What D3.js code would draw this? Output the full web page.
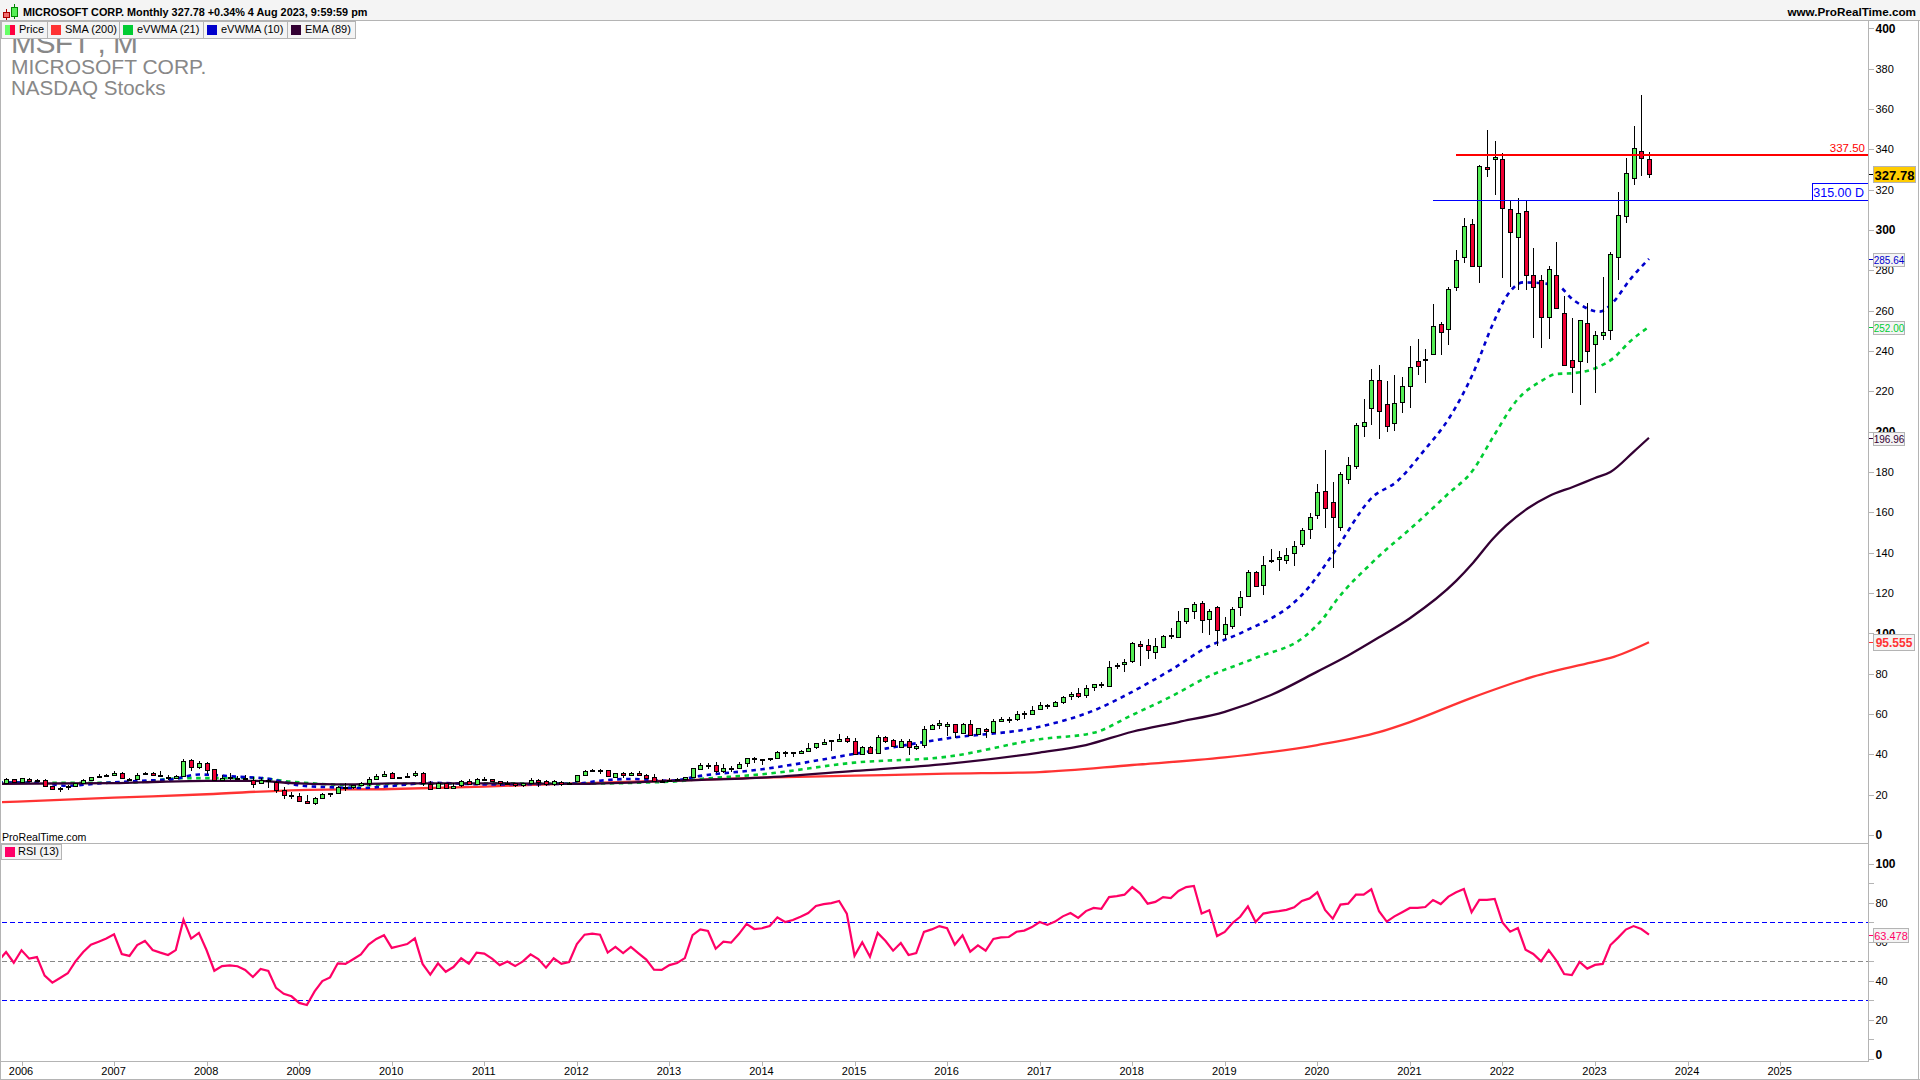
<!DOCTYPE html>
<html>
<head>
<meta charset="utf-8">
<title>MSFT monthly</title>
<script src="https://cdn.jsdelivr.net/npm/d3@7"></script>
<style>
  html, body { margin: 0; padding: 0; background: #fff; }
  svg { display: block; }
  text { font-family: "Liberation Sans", Arial, sans-serif; }
</style>
</head>
<body>
<script>
var width = 1920,
    height = 1080;

// monthly candles, first bar is Nov 2005 (month index -2, Jan 2006 = 0)
var firstMonth = -2;

var opens = [
  25.73, 27.73,
  26.25, 27.9, 26.9, 27.1, 24.2, 22.6, 23.4, 24.1, 25.8, 27.4, 28.9, 29.2,
  29.9, 30.7, 28.0, 27.9, 30.0, 30.7, 29.6, 29.0, 28.6, 29.5, 37.0, 33.6,
  35.9, 32.5, 27.2, 28.4, 28.5, 28.2, 27.5, 25.7, 27.3, 26.4, 22.5, 20.0,
  19.5, 17.0, 16.1, 18.2, 20.4, 21.0, 23.8, 23.8, 24.6, 25.9, 27.9, 29.5,
  30.6, 28.4, 28.8, 29.4, 30.7, 25.5, 23.1, 25.9, 23.7, 24.6, 26.9, 25.6,
  28.0, 27.8, 26.6, 25.5, 25.9, 25.0, 26.1, 27.5, 26.6, 25.0, 26.4, 25.6,
  26.6, 29.8, 31.9, 32.0, 32.0, 28.8, 30.6, 29.6, 30.8, 29.8, 28.8, 27.0,
  27.2, 27.5, 27.7, 28.6, 32.9, 34.6, 34.8, 31.8, 33.3, 33.4, 35.7, 38.1,
  37.3, 37.7, 38.2, 41.1, 40.3, 40.95, 41.9, 43.2, 45.4, 46.3, 46.9, 47.9,
  46.7, 40.6, 43.7, 40.6, 48.6, 47.0, 43.9, 46.7, 43.4, 44.8, 52.6, 54.4,
  54.3, 54.9, 50.97, 55.1, 50.0, 52.4, 51.1, 56.6, 57.0, 57.4, 60.1, 60.2,
  62.8, 64.4, 64.1, 65.8, 68.7, 70.2, 69.3, 73.1, 74.7, 73.8, 83.7, 84.6,
  86.1, 94.8, 93.99, 90.5, 93.2, 99.3, 98.1, 106.0, 111.0, 115.0, 107.0, 113.0,
  99.6, 103.8, 112.9, 118.9, 130.5, 123.9, 136.6, 137.0, 136.6, 139.7, 144.3, 151.8,
  158.8, 170.4, 165.3, 153.0, 176.3, 183.0, 203.1, 211.5, 225.5, 213.5, 204.3, 214.5,
  222.5, 235.1, 235.9, 238.5, 253.4, 251.2, 271.6, 286.4, 302.9, 282.1, 331.4, 335.1,
  335.4, 310.4, 296.4, 309.4, 277.7, 275.2, 257.0, 277.8, 258.9, 235.4, 234.6, 253.9,
  243.1, 248.0, 250.8, 286.5, 306.97, 325.9, 339.2, 335.2
];

var highs = [
  28.25, 27.9,
  28.38, 28.2, 27.9, 27.7, 24.3, 23.9, 24.6, 26.0, 27.9, 29.0, 30.0, 30.3,
  31.5, 31.2, 28.5, 30.7, 31.2, 31.1, 31.8, 29.6, 29.9, 37.5, 37.5, 36.7,
  35.96, 32.7, 29.8, 30.8, 29.5, 29.6, 28.7, 28.5, 28.0, 26.6, 23.9, 21.3,
  21.0, 19.9, 18.7, 20.9, 21.0, 24.3, 25.7, 25.0, 26.1, 28.9, 30.0, 31.5,
  31.2, 29.0, 30.6, 31.6, 31.0, 26.9, 26.1, 26.0, 25.8, 27.2, 28.0, 28.4,
  28.9, 27.9, 26.7, 26.9, 25.9, 26.0, 28.1, 27.6, 27.5, 27.5, 26.7, 26.1,
  29.9, 32.0, 32.9, 32.9, 32.3, 30.9, 31.0, 31.3, 31.6, 30.1, 30.2, 27.7,
  28.2, 28.2, 29.0, 33.3, 35.8, 35.8, 36.4, 35.2, 34.0, 36.3, 38.3, 38.9,
  37.9, 38.4, 41.5, 41.7, 41.4, 42.3, 45.7, 45.5, 47.6, 47.0, 50.0, 49.0,
  47.9, 44.3, 44.2, 49.5, 49.0, 47.8, 47.4, 47.4, 45.0, 54.0, 55.0, 56.8,
  56.0, 55.1, 55.6, 56.8, 53.0, 52.9, 57.3, 58.5, 58.7, 61.4, 61.4, 64.1,
  65.9, 65.2, 66.2, 69.1, 70.7, 72.9, 74.4, 74.96, 75.97, 86.2, 85.1, 87.5,
  95.5, 96.1, 97.2, 97.9, 99.0, 102.7, 111.2, 112.8, 115.3, 116.2, 112.2, 113.4,
  107.9, 113.2, 120.8, 131.4, 130.7, 138.4, 141.7, 140.9, 142.4, 145.7, 152.0, 159.6,
  174.1, 190.7, 175.0, 180.0, 187.5, 204.4, 216.4, 231.2, 232.9, 225.2, 228.1, 227.2,
  242.6, 246.1, 241.1, 263.2, 254.4, 271.6, 290.2, 305.8, 305.3, 332.0, 349.7, 344.3,
  338.0, 315.1, 315.9, 315.1, 290.9, 277.7, 282.0, 294.2, 267.5, 256.2, 255.3, 263.9,
  249.8, 276.8, 289.3, 318.8, 335.9, 351.5, 366.8, 338.5
];

var lows = [
  25.5, 26.1,
  26.1, 26.3, 26.5, 23.9, 22.5, 21.5, 22.2, 23.9, 25.2, 27.3, 28.7, 29.0,
  29.4, 28.0, 26.6, 27.5, 29.9, 29.5, 28.9, 27.3, 28.1, 29.3, 31.6, 32.5,
  30.2, 26.9, 26.9, 27.1, 27.6, 27.1, 23.5, 25.2, 23.5, 20.8, 18.0, 18.0,
  16.75, 15.2, 14.87, 17.9, 19.0, 20.7, 22.0, 23.0, 24.2, 24.4, 27.6, 29.2,
  27.7, 27.6, 28.4, 28.6, 24.5, 22.9, 22.7, 23.3, 23.3, 24.0, 25.2, 25.2,
  27.4, 26.4, 24.2, 24.8, 24.0, 23.6, 26.0, 23.8, 24.3, 24.3, 24.3, 25.0,
  26.4, 29.7, 31.0, 30.3, 28.9, 28.3, 28.5, 29.2, 29.7, 27.9, 26.3, 26.1,
  26.3, 27.1, 27.5, 28.1, 32.6, 32.6, 30.8, 30.8, 31.0, 32.7, 33.9, 35.9,
  34.6, 36.9, 37.7, 38.5, 38.5, 40.2, 41.1, 42.7, 44.6, 41.6, 46.7, 45.5,
  40.2, 40.2, 40.2, 40.1, 45.8, 43.9, 43.3, 39.7, 42.2, 43.1, 52.0, 52.5,
  49.1, 48.2, 50.6, 49.4, 49.5, 48.0, 50.4, 56.2, 55.6, 56.3, 57.3, 59.9,
  61.9, 62.7, 63.6, 64.8, 67.1, 67.9, 68.0, 71.3, 72.9, 73.6, 82.2, 80.7,
  85.5, 83.8, 87.1, 87.5, 92.5, 97.3, 97.7, 104.8, 107.2, 100.1, 99.4, 93.96,
  97.2, 102.3, 108.8, 118.1, 123.0, 119.0, 134.7, 130.8, 134.5, 133.2, 143.0, 146.7,
  156.5, 152.0, 132.5, 150.8, 173.8, 181.4, 197.5, 203.1, 196.3, 199.6, 200.1, 209.1,
  211.9, 227.9, 224.3, 238.0, 238.1, 243.0, 269.6, 283.7, 281.6, 273.9, 326.4, 317.3,
  276.1, 271.5, 270.0, 270.0, 246.4, 241.5, 245.9, 260.7, 232.7, 219.1, 213.4, 233.9,
  219.4, 245.5, 245.6, 275.4, 303.4, 322.5, 327.0, 325.7
];

var closes = [
  27.68, 26.15,
  28.15, 26.87, 27.21, 24.15, 22.65, 23.3, 24.06, 25.7, 27.35, 28.71, 29.36, 29.86,
  30.86, 28.17, 27.87, 29.94, 30.69, 29.47, 28.99, 28.73, 29.46, 36.81, 33.6, 35.6,
  32.6, 27.2, 28.38, 28.52, 28.32, 27.51, 25.72, 27.29, 26.69, 22.33, 20.22, 19.44,
  17.1, 16.15, 18.37, 20.26, 20.89, 23.77, 23.52, 24.65, 25.72, 27.73, 29.41, 30.48,
  28.18, 28.67, 29.29, 30.54, 25.8, 23.01, 25.81, 23.47, 24.49, 26.67, 25.26, 27.91,
  27.73, 26.58, 25.39, 25.92, 25.01, 26.0, 27.4, 26.6, 24.89, 26.63, 25.58, 25.96,
  29.53, 31.74, 32.26, 32.02, 29.19, 30.59, 29.47, 30.82, 29.76, 28.54, 26.62, 26.71,
  27.45, 27.8, 28.6, 33.1, 34.9, 34.55, 31.84, 33.4, 33.28, 35.4, 38.13, 37.41,
  37.84, 38.31, 40.99, 40.4, 40.94, 41.7, 43.16, 45.43, 46.36, 46.95, 47.81, 46.45,
  40.4, 43.85, 40.65, 48.64, 46.86, 44.15, 46.7, 43.52, 44.26, 52.64, 54.35, 55.48,
  55.09, 50.88, 55.23, 49.87, 53.0, 51.17, 56.68, 57.46, 57.6, 59.92, 60.26, 62.14,
  64.65, 63.98, 65.86, 68.46, 69.84, 68.93, 72.7, 74.77, 74.49, 83.18, 84.17, 85.54,
  95.01, 93.77, 91.27, 93.52, 98.84, 98.61, 106.08, 112.33, 114.37, 106.81, 110.89, 101.57,
  104.43, 112.03, 117.94, 130.6, 123.68, 133.96, 136.27, 137.86, 139.03, 143.37, 151.38, 157.7,
  170.23, 162.01, 157.71, 179.21, 183.25, 203.51, 205.01, 225.53, 210.33, 202.47, 214.07, 222.42,
  231.96, 232.38, 235.77, 252.18, 249.68, 270.9, 284.91, 301.88, 281.92, 331.62, 330.59, 336.32,
  310.98, 298.79, 308.31, 277.52, 271.87, 256.83, 280.74, 261.47, 232.9, 232.13, 255.14, 239.82,
  247.81, 249.42, 288.3, 307.26, 328.39, 340.54, 335.92, 327.78
];

// RSI (13), first value is month index -3
var rsiValues = [
  50, 54.6, 49.1,
  55.5, 51.2, 52, 42.5, 38.9, 41.3, 43.7, 49.8, 54.6, 58.4, 59.9, 61.5,
  63.7, 53.6, 52.6, 58.2, 60.3, 55.6, 54.3, 53.1, 55.6, 71.2, 61.5, 64.4,
  55.5, 45, 47.4, 47.8, 47.3, 45.4, 41.8, 45.9, 44.9, 36.2, 33.2, 31.9,
  28.5, 27.4, 34.4, 39.7, 41.6, 48.8, 48.5, 50.9, 53.4, 58.4, 61.3, 63.2,
  56.7, 57.7, 58.7, 61.6, 48.5, 43, 48.8, 44.5, 46.9, 51.4, 48.6, 54.3,
  53.8, 51.2, 47.9, 49.7, 47.4, 49.8, 53.4, 51, 46.6, 51.4, 48.5, 49.5,
  58.7, 63.5, 64, 63.5, 54.3, 57.2, 54.1, 57.2, 53.9, 50.7, 45.6, 45.4,
  47.9, 49, 51.5, 63.3, 66.2, 65.4, 56.3, 59.9, 59.4, 63.8, 69, 66.4,
  66.8, 67.9, 72.4, 70, 71, 72.7, 74.6, 78.2, 79.2, 79.7, 80.8, 74.3,
  52.7, 59.6, 52.2, 64.4, 60.4, 55.3, 59.2, 53.1, 54.1, 64.9, 66.2, 67.9,
  66.8, 58.4, 63.2, 54.8, 58, 55.3, 61.3, 62.1, 62.3, 65, 65.6, 67.4,
  70, 68.5, 70.2, 72.9, 74.6, 72.1, 75.6, 77.2, 76.7, 82.8, 83.3, 84,
  87.9, 84.7, 79.4, 80.3, 82.8, 82.3, 85.9, 87.9, 88.5, 74.3, 76, 62.8,
  64.9, 69.5, 72.7, 78, 70, 74.3, 75.1, 75.6, 76.2, 77.5, 80.8, 82.1,
  85.2, 76.2, 71.7, 78.9, 79.4, 84, 84, 86.8, 75.5, 70.2, 72.9, 75,
  77.2, 77.2, 77.7, 81.3, 79.2, 83, 85.2, 86.9, 75, 81.3, 81.3, 81.8,
  69.8, 65, 66.9, 55.8, 53.6, 49.8, 55.6, 50.2, 43.3, 42.8, 49.5, 46.1,
  48, 48.5, 58.2, 62, 66.1, 67.9, 66.4, 63.478
];

// moving averages at these month indexes
var smaMonths = [-3, 12, 24, 36, 48, 60, 72, 84, 96, 108, 120, 132, 144, 156, 168, 176, 180, 188, 196, 204, 206, 211];
var smaValues = [16.2, 18.5, 20.2, 22.3, 22.8, 24, 25.6, 26.9, 28.4, 29.4, 30.4, 31.2, 34.7, 38.5, 44.6, 51, 56, 68, 78.5, 86, 87.8, 95.555];

var emaMonths = [-3, 12, 18, 24, 30, 36, 42, 48, 60, 72, 84, 96, 108, 120, 132, 138, 144, 150, 156, 162, 168, 172, 176, 180, 186, 188.2, 190.8, 192.5, 195.3, 198, 201.2, 204, 206, 209, 211];
var emaValues = [25.4, 25.7, 26.4, 26.8, 26.8, 25.6, 25.1, 25.6, 25.6, 25.4, 26.8, 28.4, 31.8, 35.3, 40.9, 44.6, 51.2, 56, 61.1, 69.4, 81, 89, 98, 107.5, 126, 135, 147, 153.5, 162, 168, 172.7, 177, 180, 190, 196.96];

var ev21Months = [-3, 5, 14, 21, 24, 30, 35, 40, 44, 48, 60, 72, 84, 88, 96, 108, 120, 132, 139, 144, 149, 154, 160, 166.6, 168.8, 170.5, 175.2, 180.9, 184.8, 188.2, 190.8, 193.9, 196.9, 199, 201.2, 204.2, 206.4, 208.5, 211];
var ev21Values = [26.2, 25.9, 26, 28.2, 28.2, 28.4, 26.4, 25.1, 24.6, 25.3, 25.6, 25.5, 26.4, 27.8, 30.1, 35.9, 38.8, 47.5, 50.7, 59.5, 68.6, 78.8, 87.8, 99.2, 107.6, 116.5, 135.4, 154.7, 168.6, 181, 197.4, 215.7, 224.8, 228.6, 229, 231.7, 236.5, 244.6, 252];

var ev10Months = [-3, 2, 6, 10, 15, 19.5, 23, 25, 28, 32, 36, 40, 44, 48, 53, 60, 72, 75, 79, 84, 88, 96, 108, 120, 132, 139, 144, 149, 154, 158, 166.6, 170.1, 175.2, 178.3, 181.7, 185.2, 188.2, 190.8, 192.5, 194.7, 199, 201.2, 204.6, 206.4, 208.5, 211];
var ev10Values = [26, 25.9, 24.4, 25.6, 26.8, 27.6, 30, 29.7, 28.9, 27.9, 24.6, 23.7, 23.3, 24.3, 25.9, 25.1, 25.5, 26.9, 27.8, 26.9, 29.3, 32.6, 40.2, 47.9, 53.7, 61.7, 71, 81.8, 93.7, 100, 121.5, 139.7, 167.7, 175.2, 190, 207.4, 229, 253.8, 266.9, 274, 272.7, 265.3, 259.5, 264.4, 275.2, 285.64];

var priceTicks = [0, 20, 40, 60, 80, 100, 120, 140, 160, 180, 200, 220, 240, 260, 280, 300, 320, 340, 360, 380, 400];
var priceBold = [0, 100, 200, 300, 400];
var rsiTicks = [0, 10, 20, 30, 40, 50, 60, 70, 80, 90, 100];
var rsiLabels = [0, 20, 40, 60, 80, 100];
var yearMonths = [0, 12, 24, 36, 48, 60, 72, 84, 96, 108, 120, 132, 144, 156, 168, 180, 192, 204, 216, 228];
var yearLabels = ["2006", "2007", "2008", "2009", "2010", "2011", "2012", "2013", "2014", "2015", "2016", "2017", "2018", "2019", "2020", "2021", "2022", "2023", "2024", "2025"];

var legendNames = ["Price", "SMA (200)", "eVWMA (21)", "eVWMA (10)", "EMA (89)"];
var legendColors = ["#ff3333", "#ff3333", "#00cc33", "#0000cc", "#330033"];
var legendEdges = [1, 47, 119, 203, 287, 355];

var axisX = 1868;
var grey = "#b4b4b4";

var x = d3.scaleLinear().domain([0, 204]).range([21.5, 1595]);
var y = d3.scaleLinear().domain([0, 400]).range([835, 28.3]);
var yRsi = d3.scaleLinear().domain([0, 100]).range([1058.5, 863.5]);

var svg = d3.select("body").append("svg")
    .attr("width", width)
    .attr("height", height);

svg.append("rect").attr("width", width).attr("height", height).attr("fill", "#fff");

var defs = svg.append("defs");
defs.append("clipPath").attr("id", "pricePane").append("rect")
    .attr("x", 2).attr("y", 21).attr("width", axisX - 2).attr("height", 822);
defs.append("clipPath").attr("id", "rsiPane").append("rect")
    .attr("x", 2).attr("y", 844).attr("width", axisX - 2).attr("height", 217);

// watermark text, sits under the legend row
var title = svg.append("g").attr("fill", "#888");
title.append("text").attr("x", 11).attr("y", 53).attr("font-size", 30).attr("textLength", 127).text("MSFT , M");
title.append("text").attr("x", 11).attr("y", 74).attr("font-size", 21).text("MICROSOFT CORP.");
title.append("text").attr("x", 11).attr("y", 95).attr("font-size", 20.6).text("NASDAQ Stocks");

// price pane
var pricePane = svg.append("g").attr("clip-path", "url(#pricePane)");

function maLine(months, values) {
  var pts = months.map(function(m, i) { return [m, values[i]]; });
  return d3.line()
      .curve(d3.curveMonotoneX)
      .x(function(d) { return x(d[0]); })
      .y(function(d) { return y(d[1]); })(pts);
}

pricePane.append("path").attr("d", maLine(smaMonths, smaValues))
    .attr("fill", "none").attr("stroke", "#ff3333").attr("stroke-width", 2.3);
pricePane.append("path").attr("d", maLine(ev21Months, ev21Values))
    .attr("fill", "none").attr("stroke", "#00cc33").attr("stroke-width", 2.6).attr("stroke-dasharray", "4.5,4.5");
pricePane.append("path").attr("d", maLine(ev10Months, ev10Values))
    .attr("fill", "none").attr("stroke", "#0000cc").attr("stroke-width", 2.6).attr("stroke-dasharray", "4.5,4.5");
pricePane.append("path").attr("d", maLine(emaMonths, emaValues))
    .attr("fill", "none").attr("stroke", "#330033").attr("stroke-width", 2.3);

var bars = closes.map(function(c, i) {
  return { m: firstMonth + i, o: opens[i], h: highs[i], l: lows[i], c: c };
});

var candle = pricePane.selectAll(".candle")
    .data(bars)
    .enter().append("g")
    .attr("class", "candle")
    .attr("shape-rendering", "crispEdges");

candle.append("line")
    .attr("x1", function(d) { return Math.round(x(d.m)) + 0.5; })
    .attr("x2", function(d) { return Math.round(x(d.m)) + 0.5; })
    .attr("y1", function(d) { return y(d.h); })
    .attr("y2", function(d) { return y(d.l); })
    .attr("stroke", "#000");

candle.append("rect")
    .attr("x", function(d) { return Math.round(x(d.m)) - 1.5; })
    .attr("width", 4)
    .attr("y", function(d) { return Math.round(y(Math.max(d.o, d.c))) + 0.5; })
    .attr("height", function(d) { return Math.max(1, Math.round(Math.abs(y(d.o) - y(d.c)))); })
    .attr("fill", function(d) { return d.c >= d.o ? "#55ee55" : "#f00033"; })
    .attr("stroke", "#000");

// drawn levels
pricePane.append("line").attr("x1", 1456).attr("x2", axisX)
    .attr("y1", y(337.5) + 0.6).attr("y2", y(337.5) + 0.6).attr("stroke", "#ff0000").attr("stroke-width", 2)
    .attr("shape-rendering", "crispEdges");
pricePane.append("line").attr("x1", 1433).attr("x2", axisX)
    .attr("y1", Math.round(y(315)) + 0.5).attr("y2", Math.round(y(315)) + 0.5).attr("stroke", "#0000ff");
pricePane.append("text").attr("x", 1865).attr("y", y(337.5) - 2).attr("text-anchor", "end")
    .attr("font-size", 11.5).attr("fill", "#ff0000").text("337.50");
pricePane.append("rect").attr("x", 1812.5).attr("y", Math.round(y(315)) - 16.5).attr("width", 60).attr("height", 17)
    .attr("fill", "#fff").attr("stroke", "#0000ff");
pricePane.append("text").attr("x", 1864).attr("y", y(315) - 2.5).attr("text-anchor", "end")
    .attr("font-size", 12.5).attr("fill", "#0000ff").text("315.00 D");

pricePane.append("text").attr("x", 2).attr("y", 841).attr("font-size", 10.6).attr("fill", "#000").text("ProRealTime.com");

// rsi pane
var rsiPane = svg.append("g").attr("clip-path", "url(#rsiPane)");

[[70, "#0000ff"], [50, "#888888"], [30, "#0000ff"]].forEach(function(l) {
  rsiPane.append("line").attr("x1", 2).attr("x2", axisX)
      .attr("y1", Math.round(yRsi(l[0])) + 0.5).attr("y2", Math.round(yRsi(l[0])) + 0.5)
      .attr("stroke", l[1]).attr("stroke-dasharray", "5,3");
});

var rsiLine = d3.line()
    .x(function(d, i) { return x(i - 3); })
    .y(function(d) { return yRsi(d); });

rsiPane.append("path").attr("d", rsiLine(rsiValues))
    .attr("fill", "none").attr("stroke", "#ff0066").attr("stroke-width", 2.2);

// frame
function frameLine(x1, y1, x2, y2) {
  svg.append("line").attr("x1", x1).attr("y1", y1).attr("x2", x2).attr("y2", y2)
      .attr("stroke", grey).attr("shape-rendering", "crispEdges");
}
frameLine(0, 843.5, axisX, 843.5);
frameLine(0.5, 20, 0.5, 1080);
frameLine(0, 1079.5, width, 1079.5);
frameLine(1918.5, 20, 1918.5, 1080);

// axes
var axisPrice = d3.axisRight(y).tickValues(priceTicks).tickSize(5).tickSizeOuter(0).tickPadding(2);
var gPrice = svg.append("g").attr("transform", "translate(" + (axisX + 0.5) + ",0)").call(axisPrice);

var axisRsi = d3.axisRight(yRsi).tickValues(rsiTicks).tickSize(5).tickSizeOuter(0).tickPadding(2)
    .tickFormat(function(d) { return rsiLabels.indexOf(d) >= 0 ? d : ""; });
var gRsi = svg.append("g").attr("transform", "translate(" + (axisX + 0.5) + ",0)").call(axisRsi);

var axisTime = d3.axisBottom(x).tickValues(yearMonths).tickSize(4).tickSizeOuter(0).tickPadding(2)
    .tickFormat(function(d, i) { return yearLabels[i]; });
var gTime = svg.append("g").attr("transform", "translate(0,1061.5)").call(axisTime);

[gPrice, gRsi, gTime].forEach(function(g) {
  g.selectAll("line").attr("stroke", grey).attr("shape-rendering", "crispEdges");
  g.selectAll("text").attr("font-family", "Liberation Sans").attr("font-size", 11).attr("fill", "#000");
  g.select(".domain").remove();
});

gTime.selectAll("text").attr("dx", -1);

gPrice.selectAll("text").filter(function(d) { return priceBold.indexOf(d) >= 0; })
    .attr("font-weight", "bold").attr("font-size", 12);
gRsi.selectAll("text").filter(function(d) { return d === 0 || d === 100; })
    .attr("font-weight", "bold").attr("font-size", 12);
gRsi.selectAll("text").filter(function(d) { return d === 0; }).attr("y", -4);

frameLine(axisX + 0.5, 21, axisX + 0.5, 1062);
frameLine(0, 1061.5, axisX, 1061.5);

// value tags on the axis
var tags = [
  { v: 327.78, t: "327.78", s: y, c: "#000", bg: "#ffcc00", fs: 13, bold: true, w: 42, h: 16 },
  { v: 285.64, t: "285.64", s: y, c: "#0000cc", bg: "#f4f4f4", fs: 10, w: 31, h: 13 },
  { v: 252, t: "252.00", s: y, c: "#00cc33", bg: "#f4f4f4", fs: 10, w: 31, h: 13 },
  { v: 196.96, t: "196.96", s: y, c: "#330033", bg: "#f4f4f4", fs: 10, w: 31, h: 13 },
  { v: 95.555, t: "95.555", s: y, c: "#ff3333", bg: "#f4f4f4", fs: 12, bold: true, w: 41, h: 16 },
  { v: 63.478, t: "63.478", s: yRsi, c: "#ff0066", bg: "#f4f4f4", fs: 11, w: 35, h: 14 }
];

tags.forEach(function(d) {
  var py = Math.round(d.s(d.v));
  svg.append("line").attr("x1", axisX + 1).attr("x2", axisX + 5).attr("y1", py + 0.5).attr("y2", py + 0.5)
      .attr("stroke", d.c).attr("shape-rendering", "crispEdges");
  svg.append("rect").attr("x", 1873.5).attr("y", py - Math.floor(d.h / 2) + 0.5)
      .attr("width", d.w).attr("height", d.h)
      .attr("fill", d.bg).attr("stroke", grey).attr("shape-rendering", "crispEdges");
  svg.append("text").attr("x", 1873.5 + d.w / 2).attr("y", py + 1).attr("dy", "0.35em")
      .attr("text-anchor", "middle").attr("font-size", d.fs)
      .attr("font-weight", d.bold ? "bold" : "normal").attr("fill", d.c).text(d.t);
});

// header row
svg.append("rect").attr("width", width).attr("height", 21).attr("fill", "#f4f4f4");
frameLine(0, 20.5, width, 20.5);

var icon = svg.append("g").attr("shape-rendering", "crispEdges");
icon.append("line").attr("x1", 6.5).attr("x2", 6.5).attr("y1", 9).attr("y2", 20).attr("stroke", "#a00");
icon.append("rect").attr("x", 3.5).attr("y", 12.5).attr("width", 6).attr("height", 5).attr("fill", "#f07070").attr("stroke", "#a00");
icon.append("line").attr("x1", 14.5).attr("x2", 14.5).attr("y1", 4).attr("y2", 19).attr("stroke", "#080");
icon.append("rect").attr("x", 11.5).attr("y", 7.5).attr("width", 6).attr("height", 9).attr("fill", "#55ee55").attr("stroke", "#080");

svg.append("text").attr("x", 23).attr("y", 16).attr("font-size", 10.85).attr("font-weight", "bold")
    .attr("fill", "#000").text("MICROSOFT CORP. Monthly 327.78 +0.34% 4 Aug 2023, 9:59:59 pm");
svg.append("text").attr("x", 1916).attr("y", 16).attr("text-anchor", "end").attr("font-size", 11.7).attr("font-weight", "bold")
    .attr("fill", "#000").text("www.ProRealTime.com");

// legend row
legendNames.forEach(function(name, i) {
  var x0 = legendEdges[i], x1 = legendEdges[i + 1];
  svg.append("rect").attr("x", x0 + 0.5).attr("y", 21.5).attr("width", x1 - x0).attr("height", 17)
      .attr("fill", "#f4f4f4").attr("stroke", grey).attr("shape-rendering", "crispEdges");
  svg.append("rect").attr("x", x0 + 4).attr("y", 25).attr("width", 10).attr("height", 10).attr("fill", legendColors[i]);
  if (i == 0) {
    svg.append("rect").attr("x", x0 + 4).attr("y", 25).attr("width", 5).attr("height", 10).attr("fill", "#66ff66");
    svg.append("rect").attr("x", x0 + 9).attr("y", 25).attr("width", 5).attr("height", 10).attr("fill", "#ff0040");
  }
  svg.append("text").attr("x", x0 + 18).attr("y", 33).attr("font-size", 11).attr("fill", "#000").text(name);
});

// rsi legend
svg.append("rect").attr("x", 1.5).attr("y", 844.5).attr("width", 60).attr("height", 15)
    .attr("fill", "#f4f4f4").attr("stroke", grey).attr("shape-rendering", "crispEdges");
svg.append("rect").attr("x", 5).attr("y", 847).attr("width", 10).attr("height", 10).attr("fill", "#ff0066");
svg.append("text").attr("x", 18).attr("y", 855).attr("font-size", 11).attr("fill", "#000").text("RSI (13)");
</script>
</body>
</html>
